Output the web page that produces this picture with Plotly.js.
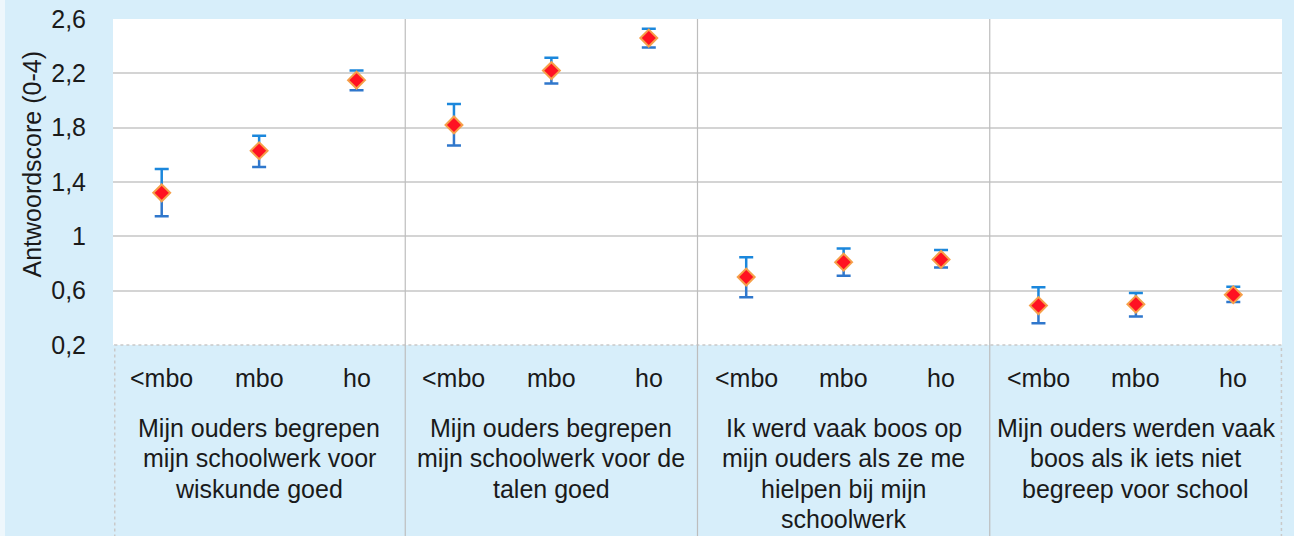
<!DOCTYPE html>
<html>
<head>
<meta charset="utf-8">
<script src="https://cdn.plot.ly/plotly-3.0.1.min.js"></script>
<style>
  html, body { margin: 0; padding: 0; background: #d7eefa; }
  #chart { width: 1294px; height: 536px; }
</style>
</head>
<body>
<div id="chart"></div>
<script>
// ---- Data ----
const subLabels = ['<mbo', 'mbo', 'ho'];
const groupLines = [
  ['Mijn ouders begrepen', 'mijn schoolwerk voor', 'wiskunde goed'],
  ['Mijn ouders begrepen', 'mijn schoolwerk voor de', 'talen goed'],
  ['Ik werd vaak boos op', 'mijn ouders als ze me', 'hielpen bij mijn', 'schoolwerk'],
  ['Mijn ouders werden vaak', 'boos als ik iets niet', 'begreep voor school']
];
const means = [1.32, 1.63, 2.15,  1.82, 2.22, 2.46,  0.70, 0.81, 0.83,  0.49, 0.50, 0.57];
const errPlus = [0.175, 0.11, 0.07,  0.155, 0.095, 0.068,  0.146, 0.10, 0.07,  0.135, 0.083, 0.058];
const errMinus = [0.173, 0.12, 0.074,  0.151, 0.094, 0.07,  0.149, 0.10, 0.06,  0.13, 0.09, 0.054];
const yTickVals = [0.2, 0.6, 1.0, 1.4, 1.8, 2.2, 2.6];
const yTickText = ['0,2', '0,6', '1', '1,4', '1,8', '2,2', '2,6'];
const yTitle = 'Antwoordscore (0-4)';

// ---- Build ----
const nGroups = groupLines.length;
const nSub = subLabels.length;
const xs = means.map((_, i) => i);
const FONT = 'Liberation Sans, Arial, sans-serif';
const TXT = '#1a1a1a';

const traces = [
  { x: xs, y: means, type: 'scatter', mode: 'markers', hoverinfo: 'skip',
    marker: { size: 1, opacity: 0 },
    error_y: { type: 'data', symmetric: false, array: errPlus, arrayminus: means.map(() => 0),
               color: '#1b87dc', thickness: 2.5, width: 7 } },
  { x: xs, y: means, type: 'scatter', mode: 'markers', hoverinfo: 'skip',
    marker: { size: 1, opacity: 0 },
    error_y: { type: 'data', symmetric: false, array: means.map(() => 0), arrayminus: errMinus,
               color: '#2f77cc', thickness: 2.5, width: 7 } },
  { x: xs, y: means, type: 'scatter', mode: 'markers',
    marker: { symbol: 'diamond', size: 13, color: '#ff1222', line: { color: '#f6a04a', width: 2 } } }
];

const plotH = 326, plotW = 1169, bottomM = 191;
const annotations = [];
xs.forEach((x, i) => {
  annotations.push({ x: x, xref: 'x', y: 0, yref: 'paper', yshift: -33, yanchor: 'middle',
    text: subLabels[i % nSub], showarrow: false, font: { family: FONT, size: 25, color: TXT } });
});
groupLines.forEach((lines, g) => {
  const cx = g * nSub + (nSub - 1) / 2;
  lines.forEach((ln, k) => {
    annotations.push({ x: cx, xref: 'x', y: 0, yref: 'paper', yshift: -(83 + k * 30.3), yanchor: 'middle',
      text: ln, showarrow: false, font: { family: FONT, size: 25, color: TXT } });
  });
});
annotations.push({ x: 0, xref: 'paper', xshift: -82, y: (345 - 164.5) / plotH, yref: 'paper',
  text: yTitle, textangle: -90, showarrow: false, xanchor: 'center', yanchor: 'middle',
  font: { family: FONT, size: 25, color: TXT } });

const shapes = [];
const yBot = -bottomM / plotH;
// category area border
shapes.push({ type: 'rect', xref: 'paper', yref: 'paper', x0: 0.0015, x1: 0.9995, y0: yBot - 0.05, y1: 0,
  line: { color: '#c9c9c9', width: 1.5, dash: 'dot' }, fillcolor: 'rgba(0,0,0,0)', layer: 'below' });
for (let g = 1; g < nGroups; g++) {
  shapes.push({ type: 'line', xref: 'paper', yref: 'paper', x0: g / nGroups, x1: g / nGroups,
    y0: yBot - 0.05, y1: 1, line: { color: '#bdbdbd', width: 1.2 } });
}
// light strip at left edge
shapes.push({ type: 'rect', xref: 'paper', yref: 'paper', x0: -113 / plotW, x1: -108 / plotW,
  y0: yBot - 0.05, y1: 1 + 19 / plotH + 0.05, line: { width: 0 }, fillcolor: '#eef7fc', layer: 'below' });

const layout = {
  width: 1294, height: 536,
  margin: { l: 113, r: 12, t: 19, b: bottomM, pad: 0 },
  paper_bgcolor: '#d7eefa', plot_bgcolor: '#ffffff',
  showlegend: false,
  font: { family: FONT, size: 25, color: TXT },
  xaxis: { range: [-0.5, means.length - 0.5], showticklabels: false, showgrid: false,
           zeroline: false, showline: false, ticks: '', fixedrange: true },
  yaxis: { range: [0.2, 2.6], tickvals: yTickVals, ticktext: yTickText,
           showgrid: true, gridcolor: '#d4d4d4', gridwidth: 2, zeroline: false, showline: false,
           ticks: 'outside', ticklen: 21, tickcolor: 'rgba(0,0,0,0)',
           tickfont: { family: FONT, size: 25, color: TXT }, fixedrange: true },
  annotations: annotations,
  shapes: shapes
};

Plotly.newPlot('chart', traces, layout, { displayModeBar: false, staticPlot: true });
</script>
</body>
</html>
